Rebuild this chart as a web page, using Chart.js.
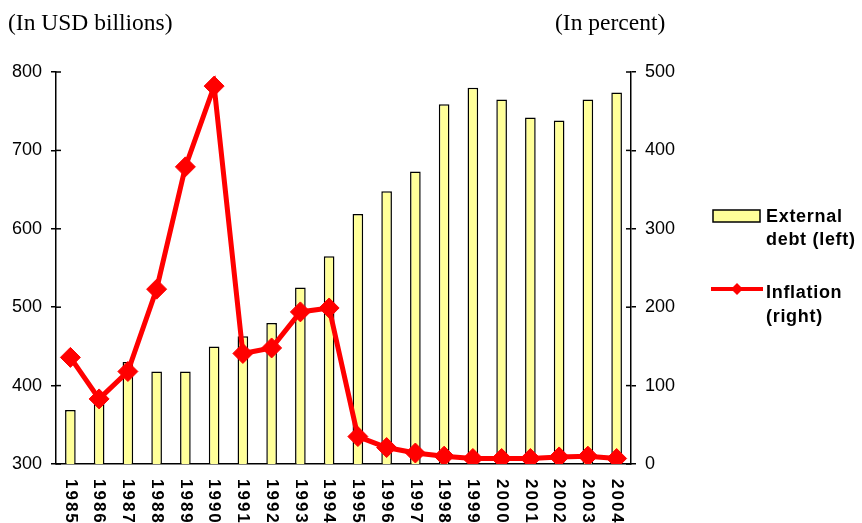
<!DOCTYPE html>
<html>
<head>
<meta charset="utf-8">
<script src="https://cdn.jsdelivr.net/npm/chart.js@4.4.1/dist/chart.umd.min.js"></script>
<style>
  html, body { margin: 0; padding: 0; background: #fff; }
  #wrap { width: 862px; height: 523px; }
</style>
</head>
<body>
<div id="wrap"><canvas id="debtChart" width="862" height="523"></canvas></div>
<script>
// values
const years = ['1985', '1986', '1987', '1988', '1989', '1990', '1991', '1992', '1993', '1994',
               '1995', '1996', '1997', '1998', '1999', '2000', '2001', '2002', '2003', '2004'];
const externalDebt = [369, 390, 430, 418, 418, 450, 463, 480, 525, 565,
                      619, 648, 673, 759, 780, 765, 742, 738, 765, 774];
const inflation = [136, 83, 118, 223, 379, 482, 141, 148, 194, 199,
                   35, 21, 14, 10, 7, 7, 7, 9, 10, 7];
const debtLabel = ['External', 'debt (left)'];
const inflationLabel = ['Inflation', '(right)'];
const leftTitle = '(In USD billions)';
const rightTitle = '(In percent)';

const SANS = "'Liberation Sans', Arial, sans-serif";
const SERIF = "'Liberation Serif', 'Times New Roman', serif";
const BAR_FILL = '#FFFF99';
const RED = '#FF0000';

// tick marks cross the axis in the original, chart.js only draws the outer half
const innerTicks = {
    id: 'innerTicks',
    beforeDatasetsDraw(chart) {
        const ctx = chart.ctx;
        ctx.save();
        ctx.strokeStyle = '#000';
        ctx.lineWidth = 1.5;
        ['y', 'y1'].forEach(id => {
            const s = chart.scales[id];
            const x0 = id === 'y' ? s.right : s.left;
            const dir = id === 'y' ? 1 : -1;
            s.ticks.forEach(t => {
                const y = s.getPixelForValue(t.value);
                ctx.beginPath();
                ctx.moveTo(x0, y);
                ctx.lineTo(x0 + dir * 5, y);
                ctx.stroke();
            });
        });
        ctx.restore();
    }
};

// titles, rotated year labels and the legend
const extras = {
    id: 'extras',
    afterDraw(chart) {
        const ctx = chart.ctx;
        const x = chart.scales.x;
        ctx.save();
        ctx.fillStyle = '#000';
        ctx.font = '23.5px ' + SERIF;
        ctx.textBaseline = 'alphabetic';
        ctx.textAlign = 'left';
        ctx.fillText(leftTitle, 8, 30);
        ctx.fillText(rightTitle, 555, 30);

        // year labels, reading top to bottom
        ctx.font = 'bold 17px ' + SANS;
        ctx.letterSpacing = '2px';
        ctx.textBaseline = 'middle';
        years.forEach((yr, i) => {
            ctx.save();
            ctx.translate(x.getPixelForValue(i), 479);
            ctx.rotate(Math.PI / 2);
            ctx.fillText(yr, 0, 0);
            ctx.restore();
        });

        // legend
        ctx.font = 'bold 18px ' + SANS;
        ctx.letterSpacing = '0.7px';
        ctx.textBaseline = 'alphabetic';
        ctx.fillStyle = BAR_FILL;
        ctx.fillRect(713, 210, 47, 12);
        ctx.strokeStyle = '#000';
        ctx.lineWidth = 1.5;
        ctx.strokeRect(713, 210, 47, 12);
        ctx.fillStyle = '#000';
        ctx.fillText(debtLabel[0], 766, 222);
        ctx.fillText(debtLabel[1], 766, 245);

        ctx.strokeStyle = RED;
        ctx.lineWidth = 4;
        ctx.beginPath();
        ctx.moveTo(711, 289);
        ctx.lineTo(763, 289);
        ctx.stroke();
        ctx.fillStyle = RED;
        ctx.beginPath();
        ctx.moveTo(737, 283);
        ctx.lineTo(743, 289);
        ctx.lineTo(737, 295);
        ctx.lineTo(731, 289);
        ctx.closePath();
        ctx.fill();
        ctx.fillStyle = '#000';
        ctx.fillText(inflationLabel[0], 766, 298);
        ctx.fillText(inflationLabel[1], 766, 322);
        ctx.restore();
    }
};

const config = {
    type: 'bar',
    data: {
        labels: years,
        datasets: [
            {
                type: 'line',
                label: inflationLabel,
                data: inflation,
                yAxisID: 'y1',
                borderColor: RED,
                borderWidth: 5,
                backgroundColor: RED,
                pointStyle: 'rectRot',
                pointRadius: 10,
                pointBorderWidth: 1,
                pointBackgroundColor: RED,
                pointBorderColor: RED,
                tension: 0,
                order: 0
            },
            {
                label: debtLabel,
                data: externalDebt,
                yAxisID: 'y',
                backgroundColor: BAR_FILL,
                borderColor: '#000',
                borderWidth: 1.5,
                categoryPercentage: 1,
                barPercentage: 0.37,
                order: 1
            }
        ]
    },
    options: {
        responsive: false,
        animation: false,
        layout: {
            padding: { top: 72, left: 0, right: 0, bottom: 0 }
        },
        plugins: {
            legend: { display: false },
            tooltip: { enabled: false },
            title: { display: false }
        },
        scales: {
            x: {
                offset: true,
                grid: { display: false, drawTicks: false },
                border: { color: '#000', width: 1.5 },
                ticks: { display: false },
                afterFit(s) { s.height = 59; }
            },
            y: {
                position: 'left',
                min: 300,
                max: 800,
                ticks: {
                    stepSize: 100,
                    color: '#000',
                    padding: 9,
                    font: { family: SANS, size: 18 }
                },
                grid: { drawOnChartArea: false, tickLength: 5, color: '#000', lineWidth: 1.5 },
                border: { color: '#000', width: 1.5 },
                afterFit(s) { s.width = 56; }
            },
            y1: {
                position: 'right',
                min: 0,
                max: 500,
                ticks: {
                    stepSize: 100,
                    color: '#000',
                    padding: 9,
                    font: { family: SANS, size: 18 }
                },
                grid: { drawOnChartArea: false, tickLength: 5, color: '#000', lineWidth: 1.5 },
                border: { color: '#000', width: 1.5 },
                afterFit(s) { s.width = 231; }
            }
        }
    },
    plugins: [innerTicks, extras]
};

var ctx = document.getElementById('debtChart').getContext('2d');
var debtChart = new Chart(ctx, config);
</script>
</body>
</html>
